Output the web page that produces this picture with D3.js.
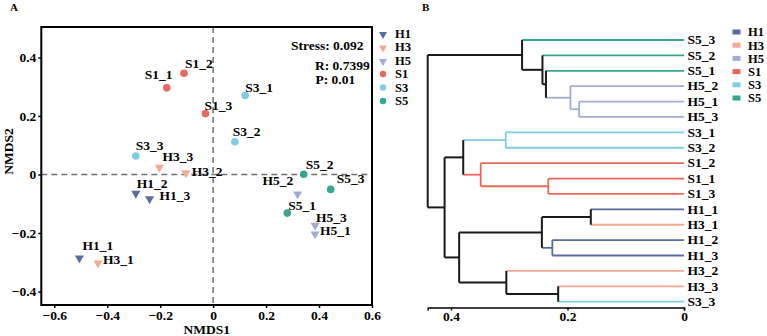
<!DOCTYPE html>
<html>
<head>
<meta charset="utf-8">
<script src="https://cdn.jsdelivr.net/npm/d3@7"></script>
<style>
  body { margin: 0; background: #fff; }
  svg { display: block; font-family: "Liberation Serif", "Times New Roman", serif; font-weight: bold; }
</style>
</head>
<body>
<div id="chart"></div>
<script>
// groups and their look
const groups = ['H1', 'H3', 'H5', 'S1', 'S3', 'S5'];
const groupColors = ['#5b6d9c', '#f5a993', '#a3abd0', '#e8695b', '#80cde2', '#33a88e'];
const groupShapes = ['tri', 'tri', 'tri', 'dot', 'dot', 'dot'];

// NMDS ordination (panel A)
const samples = ['S1_1', 'S1_2', 'S1_3', 'S3_1', 'S3_2', 'S3_3', 'H3_3', 'H3_2', 'S5_2',
  'S5_3', 'H5_2', 'S5_1', 'H5_3', 'H5_1', 'H1_2', 'H1_3', 'H1_1', 'H3_1'];
const nmds1 = [-0.175, -0.110, -0.029, 0.121, 0.082, -0.292, -0.203, -0.103, 0.342,
  0.444, 0.319, 0.280, 0.385, 0.385, -0.292, -0.240, -0.505, -0.435];
const nmds2 = [0.296, 0.346, 0.208, 0.270, 0.112, 0.063, 0.027, 0.008, 0.001,
  -0.051, -0.064, -0.132, -0.171, -0.201, -0.062, -0.081, -0.283, -0.300];
const statLines = ['Stress: 0.092', 'R: 0.7399', 'P: 0.01'];
const xTicks = [-0.6, -0.4, -0.2, 0, 0.2, 0.4, 0.6];
const yTicks = [-0.4, -0.2, 0, 0.2, 0.4];

// hierarchical clustering (panel B): [left, right, height], mN = N-th merge
const merges = [
  ['H5_1', 'H5_3', 0.180],  // m0
  ['H5_2', 'm0', 0.195],    // m1
  ['S5_1', 'm1', 0.237],    // m2
  ['S5_2', 'm2', 0.243],    // m3
  ['S5_3', 'm3', 0.278],    // m4
  ['S3_1', 'S3_2', 0.306],  // m5
  ['S1_1', 'S1_3', 0.233],  // m6
  ['S1_2', 'm6', 0.349],    // m7
  ['m5', 'm7', 0.379],      // m8
  ['H1_1', 'H3_1', 0.160],  // m9
  ['H1_2', 'H1_3', 0.226],  // m10
  ['m9', 'm10', 0.244],     // m11
  ['H3_3', 'S3_3', 0.216],  // m12
  ['H3_2', 'm12', 0.305],   // m13
  ['m11', 'm13', 0.386],    // m14
  ['m8', 'm14', 0.411],     // m15
  ['m4', 'm15', 0.440]      // m16 (root)
];
const treeTicks = [0.4, 0.2, 0];

// label nudges for the scatter (text start relative to point, px)
const labelNudge = {
  S1_1: [-22, -9], S1_2: [1, -5], S1_3: [-1, -4], S3_1: [0, -3], S3_2: [-2, -6],
  S3_3: [0, -6], H3_3: [3, -6], H3_2: [6, 4], S5_2: [2, -5], S5_3: [6, -6],
  H5_2: [-35, -8], S5_1: [1, -3], H5_3: [1, -3], H5_1: [5, 2], H1_2: [1, -5],
  H1_3: [10, 2], H1_1: [3, -7], H3_1: [5, 2]
};

const W = 767, H = 336;
const svg = d3.select('#chart').append('svg').attr('width', W).attr('height', H);

const colorOf = g => groupColors[groups.indexOf(g)];
const fs = 13.5;

// ---------------- Panel A ----------------
const box = { left: 41.3, right: 372, top: 27, bottom: 305 };
const x = d3.scaleLinear().domain([-0.649, 0.6]).range([box.left, box.right]);
const y = d3.scaleLinear().domain([-0.446, 0.504]).range([box.bottom, box.top]);

svg.append('text').attr('x', 10).attr('y', 11).style('font-size', '11px').text('A');

const gA = svg.append('g');

// dashed zero lines
gA.append('line')
  .attr('x1', x(0)).attr('x2', x(0)).attr('y1', box.top).attr('y2', box.bottom)
  .attr('stroke', '#707070').attr('stroke-width', 1.5).attr('stroke-dasharray', '6,4');
gA.append('line')
  .attr('x1', box.left).attr('x2', box.right).attr('y1', y(0)).attr('y2', y(0))
  .attr('stroke', '#707070').attr('stroke-width', 1.5).attr('stroke-dasharray', '6,4');

// axes
const xAxis = gA.append('g')
  .attr('transform', `translate(0,${box.bottom})`)
  .call(d3.axisBottom(x).tickValues(xTicks).tickSize(3).tickPadding(2)
    .tickFormat(d => d === 0 ? '0' : d3.format('.1f')(d)));
const yAxis = gA.append('g')
  .attr('transform', `translate(${box.left},0)`)
  .call(d3.axisLeft(y).tickValues(yTicks).tickSize(3).tickPadding(2)
    .tickFormat(d => d === 0 ? '0' : d3.format('.1f')(d)));
[xAxis, yAxis].forEach(a => {
  a.select('.domain').remove();
  a.selectAll('line').attr('stroke', '#000').attr('stroke-width', 1.5);
  a.selectAll('text').attr('fill', '#000').style('font-size', fs + 'px')
    .style('font-family', '"Liberation Serif", serif').style('font-weight', 'bold');
});

// frame
gA.append('rect')
  .attr('x', box.left).attr('y', box.top)
  .attr('width', box.right - box.left).attr('height', box.bottom - box.top)
  .attr('fill', 'none').attr('stroke', '#000').attr('stroke-width', 2);

svg.append('text').attr('x', (box.left + box.right) / 2).attr('y', 334)
  .attr('text-anchor', 'middle').style('font-size', fs + 'px').text('NMDS1');
svg.append('text').attr('transform', 'translate(13,151.5) rotate(-90)')
  .attr('text-anchor', 'middle').style('font-size', fs + 'px').text('NMDS2');

// stats text
svg.append('text').attr('x', 363.5).attr('y', 49.5).attr('text-anchor', 'end')
  .style('font-size', fs + 'px').text(statLines[0]);
svg.append('text').attr('x', 315).attr('y', 70).style('font-size', fs + 'px').text(statLines[1]);
svg.append('text').attr('x', 315.5).attr('y', 84).style('font-size', fs + 'px').text(statLines[2]);

const triDown = d3.symbol().type(d3.symbolTriangle).size(36)();
const triLeg = d3.symbol().type(d3.symbolTriangle).size(28)();

// points
const pts = samples.map((s, i) => ({ name: s, g: s.split('_')[0], x: nmds1[i], y: nmds2[i] }));
pts.forEach(d => {
  if (groupShapes[groups.indexOf(d.g)] === 'tri') {
    gA.append('path').attr('d', triDown)
      .attr('transform', `translate(${x(d.x)},${y(d.y) + 0.8}) rotate(180)`)
      .attr('fill', colorOf(d.g));
  } else {
    gA.append('circle').attr('cx', x(d.x)).attr('cy', y(d.y)).attr('r', 3.8)
      .attr('fill', colorOf(d.g));
  }
});

gA.selectAll('.lab')
  .data(pts)
  .enter()
  .append('text')
  .attr('class', 'lab')
  .attr('x', d => x(d.x) + labelNudge[d.name][0])
  .attr('y', d => y(d.y) + labelNudge[d.name][1])
  .style('font-size', fs + 'px')
  .text(d => d.name);

// legend A
const legA = svg.append('g');
groups.forEach((g, i) => {
  const cy = 33.5 + i * 13.5;
  if (groupShapes[i] === 'tri') {
    legA.append('path').attr('d', triLeg)
      .attr('transform', `translate(383,${cy + 0.8}) rotate(180)`).attr('fill', groupColors[i]);
  } else {
    legA.append('circle').attr('cx', 383).attr('cy', cy).attr('r', 3.2).attr('fill', groupColors[i]);
  }
  legA.append('text').attr('x', 395).attr('y', cy + 4.3).style('font-size', '12.5px').text(g);
});

// ---------------- Panel B ----------------
svg.append('text').attr('x', 422).attr('y', 11).style('font-size', '11px').text('B');

const nodes = {};
merges.forEach((m, i) => {
  const kid = k => nodes[k] || { name: k, h: 0 };
  nodes['m' + i] = { name: 'm' + i, h: m[2], children: [kid(m[0]), kid(m[1])] };
});
const root = d3.hierarchy(nodes['m' + (merges.length - 1)]);
const leaves = root.leaves();

const hx = d3.scaleLinear().domain([0, 0.44]).range([684, 427.7]);
const ly = d3.scalePoint().domain(leaves.map(d => d.data.name)).range([40, 301.7]);

root.eachAfter(n => {
  if (!n.children) {
    n.py = ly(n.data.name);
    n.grp = n.data.name.split('_')[0];
  } else {
    n.py = d3.mean(n.children, c => c.py);
    const gs = new Set(n.children.map(c => c.grp));
    n.grp = (gs.size === 1 && !gs.has(null)) ? n.children[0].grp : null;
  }
});
const edgeColor = n => n.grp ? colorOf(n.grp) : '#1a1a1a';
const edgeWidth = n => n.grp ? 1.8 : 2;

const gB = svg.append('g');
// horizontal edges
gB.selectAll('.hedge')
  .data(root.descendants().filter(n => n.parent))
  .enter()
  .append('line')
  .attr('x1', n => hx(n.parent.data.h))
  .attr('x2', n => hx(n.data.h))
  .attr('y1', n => n.py).attr('y2', n => n.py)
  .attr('stroke', edgeColor).attr('stroke-width', edgeWidth);
// vertical joins
gB.selectAll('.vedge')
  .data(root.descendants().filter(n => n.children))
  .enter()
  .append('line')
  .attr('x1', n => hx(n.data.h)).attr('x2', n => hx(n.data.h))
  .attr('y1', n => n.children[0].py).attr('y2', n => n.children[1].py)
  .attr('stroke', edgeColor).attr('stroke-width', edgeWidth);

gB.selectAll('.leaf')
  .data(leaves)
  .enter()
  .append('text')
  .attr('x', 687.5)
  .attr('y', n => n.py + 4.2)
  .style('font-size', fs + 'px')
  .text(n => n.data.name);

// height axis
const axB = gB.append('g')
  .attr('transform', 'translate(0,307.5)')
  .call(d3.axisBottom(hx).tickValues(treeTicks).tickSize(3).tickSizeOuter(3).tickPadding(1)
    .tickFormat(d => d === 0 ? '0' : d3.format('.1f')(d)));
axB.select('.domain').attr('stroke', '#000').attr('stroke-width', 1.5);
axB.selectAll('line').attr('stroke', '#000').attr('stroke-width', 1.5);
axB.selectAll('text').attr('fill', '#000').style('font-size', fs + 'px')
  .style('font-family', '"Liberation Serif", serif').style('font-weight', 'bold');

// legend B
groups.forEach((g, i) => {
  const cy = 32 + i * 13.2;
  svg.append('rect').attr('x', 732.5).attr('y', cy - 2.5).attr('width', 8).attr('height', 5)
    .attr('fill', groupColors[i]);
  svg.append('text').attr('x', 748).attr('y', cy + 4.3).style('font-size', '12.5px').text(g);
});
</script>
</body>
</html>
